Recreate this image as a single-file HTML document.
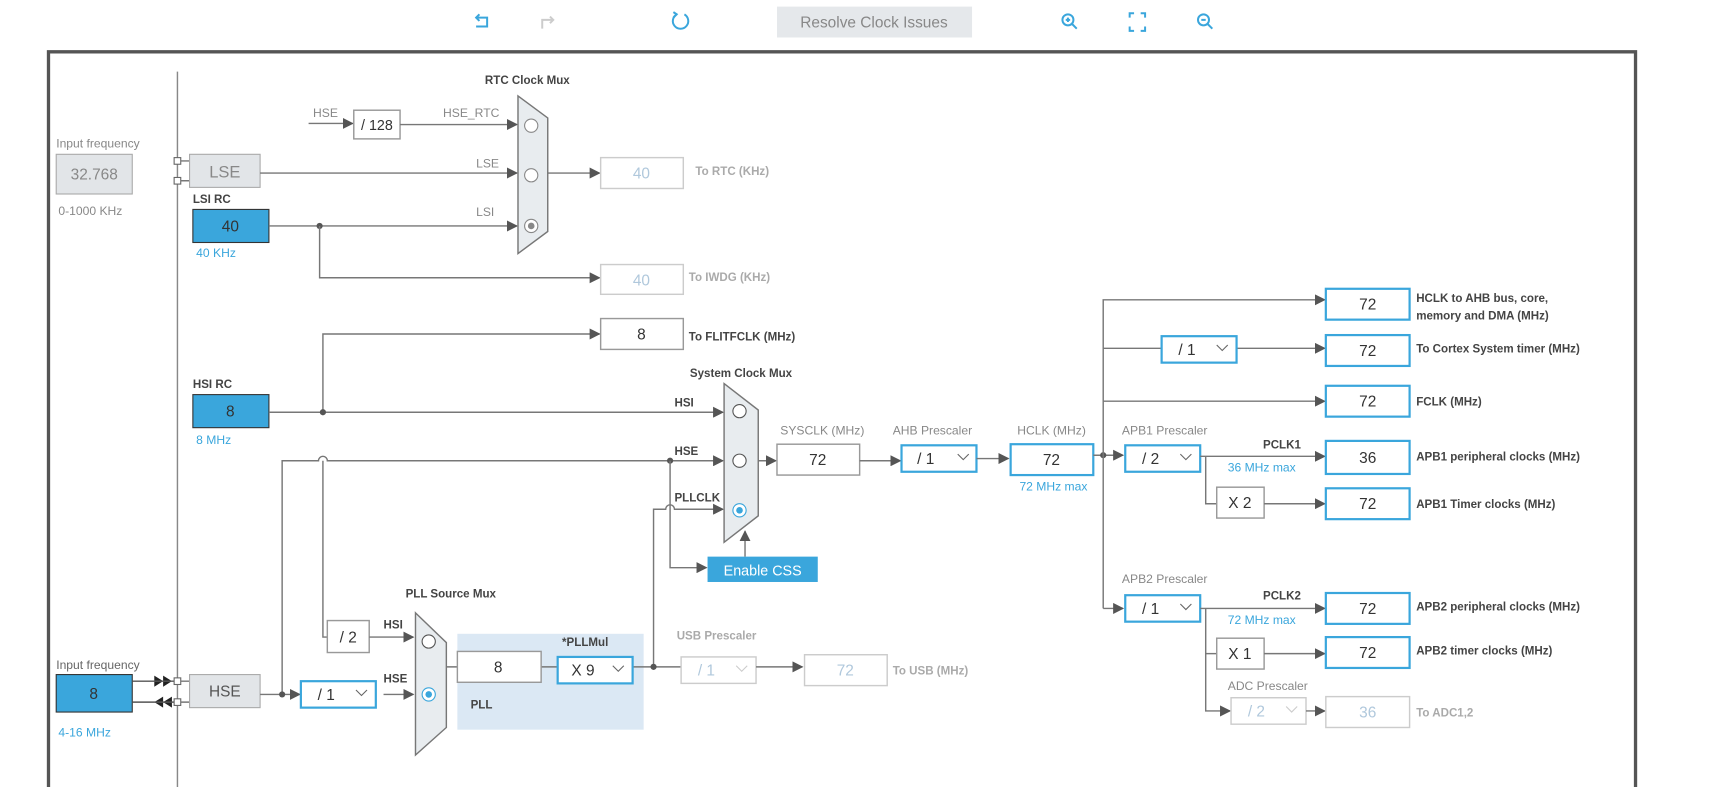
<!DOCTYPE html>
<html><head><meta charset="utf-8"><style>
html,body{margin:0;padding:0;background:#fff;width:1727px;height:787px;overflow:hidden}
svg{display:block}
text{font-family:"Liberation Sans",sans-serif}
.l{font-size:10.5px;font-weight:bold;fill:#444}
.g{font-size:10.5px;font-weight:bold;fill:#aaa}
.s{font-size:11px;fill:#888}
.b{font-size:11px;fill:#3aa6dc}
.v{font-size:14px;fill:#333;text-anchor:middle}
.vl{font-size:14px;fill:#b0c8dc;text-anchor:middle}
.w{stroke:#777;stroke-width:1.3;fill:none}
.box{fill:#fff;stroke:#999;stroke-width:1.3}
.bb{fill:#fff;stroke:#3aa6dc;stroke-width:2}
.lb{fill:#fff;stroke:#ccc;stroke-width:1.3}
</style></head><body>
<svg width="1727" height="787" viewBox="0 0 1567 714" preserveAspectRatio="none">
<defs><marker id="a" markerWidth="10" markerHeight="10" refX="9" refY="5" orient="auto" markerUnits="userSpaceOnUse"><path d="M0,0 L10,5 L0,10z" fill="#555"/></marker></defs>
<!-- toolbar -->
<g stroke="#3aa6dc" stroke-width="1.8" fill="none">
<path d="M432,16 h10 v8 h-10"/><path d="M435,13 l-3,3 l3,3"/>
<path d="M621,13 a7,7 0 1 1 -7,0"/><path d="M611,11 l3,2 l-3,3"/>
<circle cx="969" cy="18" r="5"/><path d="M973,22 l4,4 M967,18 h4 M969,16 v4"/>
<path d="M1025,16 v-4 h4 M1035,12 h4 v4 M1039,24 v4 h-4 M1029,28 h-4 v-4"/>
<circle cx="1092" cy="18" r="5"/><path d="M1096,22 l4,4 M1090,18 h4"/>
</g>
<g stroke="#ccc" stroke-width="1.8" fill="none"><path d="M492,26 v-8 h10"/><path d="M499,15 l3,3 l-3,3"/></g>
<rect x="705" y="6" width="177" height="28" fill="#e5e8eb"/>
<text x="793" y="25" text-anchor="middle" style="font-size:14px;fill:#888">Resolve Clock Issues</text>
<!-- frame -->
<path d="M44,716 V47 H1484 V716" fill="none" stroke="#555" stroke-width="3"/>
<line x1="161" y1="65" x2="161" y2="714" stroke="#888" stroke-width="1.3"/>
<!-- LSE -->
<text x="51" y="134" class="s">Input frequency</text>
<rect x="51" y="140" width="69" height="36" fill="#e2e5e8" stroke="#aaa"/>
<text x="85.5" y="163" class="v" style="fill:#888">32.768</text>
<text x="53" y="195" class="s">0-1000 KHz</text>
<rect x="158" y="143" width="6" height="6" fill="#fff" stroke="#666"/>
<rect x="158" y="161" width="6" height="6" fill="#fff" stroke="#666"/>
<path d="M164,146 h8 M164,164 h8" class="w"/>
<rect x="172" y="140" width="64" height="30" fill="#e2e5e8" stroke="#aaa"/>
<text x="204" y="161" class="v" style="fill:#888;font-size:15px">LSE</text>
<text x="175" y="184" class="l">LSI RC</text>
<rect x="175" y="190" width="69" height="30" fill="#3aa6dc" stroke="#333"/>
<text x="209" y="210" class="v">40</text>
<text x="178" y="233" class="b">40 KHz</text>
<!-- RTC mux -->
<text x="440" y="76" class="l">RTC Clock Mux</text>
<text x="284" y="106" class="s">HSE</text>
<path d="M280,112 H320" class="w" marker-end="url(#a)"/>
<rect x="321" y="100" width="42" height="26" class="box"/>
<text x="342" y="118" class="v" style="font-size:13px">/ 128</text>
<text x="402" y="106" class="s">HSE_RTC</text>
<path d="M363,113 H469" class="w" marker-end="url(#a)"/>
<text x="432" y="152" class="s">LSE</text>
<path d="M236,157 H469" class="w" marker-end="url(#a)"/>
<text x="432" y="196" class="s">LSI</text>
<path d="M244,205 H469" class="w" marker-end="url(#a)"/>
<circle cx="290" cy="205" r="2.8" fill="#555"/>
<path d="M290,205 V252 H544" class="w" marker-end="url(#a)"/>
<path d="M470,87 L497,107 V210 L470,230 Z" fill="#e8ecef" stroke="#777" stroke-width="1.3"/>
<circle cx="482" cy="114" r="6" fill="#fff" stroke="#888"/>
<circle cx="482" cy="159" r="6" fill="#fff" stroke="#888"/>
<circle cx="482" cy="205" r="6" fill="#fff" stroke="#888"/><circle cx="482" cy="205" r="3" fill="#888"/>
<path d="M497,157 H544" class="w" marker-end="url(#a)"/>
<rect x="545" y="143" width="75" height="28" class="lb"/><text x="582" y="162" class="vl">40</text>
<text x="631" y="159" class="g">To RTC (KHz)</text>
<rect x="545" y="240" width="75" height="27" class="lb"/><text x="582" y="259" class="vl">40</text>
<text x="625" y="255" class="g">To IWDG (KHz)</text>
<!-- FLITF -->
<path d="M293,374 V303 H544" class="w" marker-end="url(#a)"/>
<rect x="545" y="289" width="75" height="28" class="box"/><text x="582" y="308" class="v">8</text>
<text x="625" y="309" class="l">To FLITFCLK (MHz)</text>
<!-- HSI -->
<text x="175" y="352" class="l">HSI RC</text>
<rect x="175" y="358" width="69" height="30" fill="#3aa6dc" stroke="#333"/>
<text x="209" y="378" class="v">8</text>
<text x="178" y="403" class="b">8 MHz</text>
<path d="M244,374 H656" class="w" marker-end="url(#a)"/>
<circle cx="293" cy="374" r="2.8" fill="#555"/>
<text x="612" y="369" class="l">HSI</text>
<path d="M256,630 V418 H289 a4,4 0 0 1 8,0 H656" class="w" marker-end="url(#a)"/>
<text x="612" y="413" class="l">HSE</text>
<circle cx="608" cy="418" r="2.8" fill="#555"/>
<path d="M608,418 V515 H641" class="w" marker-end="url(#a)"/>
<path d="M593,604 V462 H604 a4,4 0 0 1 8,0 H656" class="w" marker-end="url(#a)"/>
<text x="612" y="455" class="l">PLLCLK</text>
<text x="626" y="342" class="l">System Clock Mux</text>
<path d="M657,348 L688,372 V468 L657,492 Z" fill="#e8ecef" stroke="#777" stroke-width="1.3"/>
<circle cx="671" cy="373" r="6" fill="#fff" stroke="#555"/>
<circle cx="671" cy="418" r="6" fill="#fff" stroke="#555"/>
<circle cx="671" cy="463" r="6" fill="#fff" stroke="#3aa6dc"/><circle cx="671" cy="463" r="3" fill="#3aa6dc"/>
<rect x="642" y="505" width="100" height="23" fill="#3aa6dc"/>
<text x="692" y="522" text-anchor="middle" style="font-size:13px;fill:#fff">Enable CSS</text>
<path d="M676,505 V482" class="w" marker-end="url(#a)"/>
<!-- SYSCLK chain -->
<path d="M688,418 H704" class="w" marker-end="url(#a)"/>
<text x="708" y="394" class="s">SYSCLK (MHz)</text>
<rect x="705" y="403" width="75" height="28" class="box"/><text x="742" y="422" class="v">72</text>
<path d="M780,418 H817" class="w" marker-end="url(#a)"/>
<text x="810" y="394" class="s">AHB Prescaler</text>
<rect x="818" y="404" width="68" height="24" class="bb"/><text x="840" y="421" class="v">/ 1</text><path d="M869,412 l5,5 l5,-5" stroke="#666" fill="none"/>
<path d="M886,416 H915" class="w" marker-end="url(#a)"/>
<text x="923" y="394" class="s">HCLK (MHz)</text>
<rect x="917" y="403" width="75" height="28" class="bb"/><text x="954" y="422" class="v">72</text>
<text x="925" y="445" class="b">72 MHz max</text>
<path d="M992,413 H1019" class="w" marker-end="url(#a)"/>
<circle cx="1001" cy="413" r="2.8" fill="#555"/>
<path d="M1001,552 V272 H1202" class="w" marker-end="url(#a)"/>
<path d="M1001,316 H1054 M1122,316 H1202" class="w" marker-end="url(#a)"/>
<path d="M1001,364 H1202" class="w" marker-end="url(#a)"/>
<path d="M1001,552 H1019" class="w" marker-end="url(#a)"/>
<rect x="1203" y="262" width="76" height="28" class="bb"/><text x="1241" y="281" class="v">72</text>
<text x="1285" y="274" class="l">HCLK to AHB bus, core,</text>
<text x="1285" y="290" class="l">memory and DMA (MHz)</text>
<rect x="1054" y="305" width="68" height="24" class="bb"/><text x="1077" y="322" class="v">/ 1</text><path d="M1104,313 l5,5 l5,-5" stroke="#666" fill="none"/>
<rect x="1203" y="304" width="76" height="28" class="bb"/><text x="1241" y="323" class="v">72</text>
<text x="1285" y="320" class="l">To Cortex System timer (MHz)</text>
<rect x="1203" y="350" width="76" height="28" class="bb"/><text x="1241" y="369" class="v">72</text>
<text x="1285" y="368" class="l">FCLK (MHz)</text>
<!-- APB1 -->
<text x="1018" y="394" class="s">APB1 Prescaler</text>
<rect x="1021" y="404" width="68" height="24" class="bb"/><text x="1044" y="421" class="v">/ 2</text><path d="M1071,412 l5,5 l5,-5" stroke="#666" fill="none"/>
<path d="M1089,414 H1202" class="w" marker-end="url(#a)"/>
<text x="1146" y="407" class="l">PCLK1</text>
<text x="1114" y="428" class="b">36 MHz max</text>
<rect x="1203" y="400" width="76" height="30" class="bb"/><text x="1241" y="420" class="v">36</text>
<text x="1285" y="418" class="l">APB1 peripheral clocks (MHz)</text>
<path d="M1094,414 V457 H1104" class="w"/>
<rect x="1104" y="442" width="43" height="28" class="box"/><text x="1125" y="461" class="v">X 2</text>
<path d="M1147,457 H1202" class="w" marker-end="url(#a)"/>
<rect x="1203" y="443" width="76" height="28" class="bb"/><text x="1241" y="462" class="v">72</text>
<text x="1285" y="461" class="l">APB1 Timer clocks (MHz)</text>
<!-- APB2 -->
<text x="1018" y="529" class="s">APB2 Prescaler</text>
<rect x="1021" y="540" width="68" height="24" class="bb"/><text x="1044" y="557" class="v">/ 1</text><path d="M1071,548 l5,5 l5,-5" stroke="#666" fill="none"/>
<path d="M1089,552 H1202" class="w" marker-end="url(#a)"/>
<text x="1146" y="544" class="l">PCLK2</text>
<text x="1114" y="566" class="b">72 MHz max</text>
<rect x="1203" y="538" width="76" height="28" class="bb"/><text x="1241" y="557" class="v">72</text>
<text x="1285" y="554" class="l">APB2 peripheral clocks (MHz)</text>
<path d="M1094,552 V645 H1116" class="w" marker-end="url(#a)"/>
<path d="M1094,593 H1104" class="w"/>
<rect x="1104" y="579" width="43" height="28" class="box"/><text x="1125" y="598" class="v">X 1</text>
<path d="M1147,593 H1202" class="w" marker-end="url(#a)"/>
<rect x="1203" y="578" width="76" height="28" class="bb"/><text x="1241" y="597" class="v">72</text>
<text x="1285" y="594" class="l">APB2 timer clocks (MHz)</text>
<text x="1114" y="626" class="s">ADC Prescaler</text>
<rect x="1117" y="633" width="68" height="24" class="lb"/><text x="1140" y="650" class="vl">/ 2</text><path d="M1167,641 l5,5 l5,-5" stroke="#ccc" fill="none"/>
<path d="M1185,645 H1202" class="w" marker-end="url(#a)"/>
<rect x="1203" y="632" width="76" height="28" class="lb"/><text x="1241" y="651" class="vl">36</text>
<text x="1285" y="650" class="g">To ADC1,2</text>
<!-- HSE input -->
<text x="51" y="607" class="s" style="fill:#666">Input frequency</text>
<rect x="51" y="612" width="69" height="34" fill="#3aa6dc" stroke="#333"/>
<text x="85" y="634" class="v">8</text>
<text x="53" y="668" class="b">4-16 MHz</text>
<path d="M140,613 l8,5 l-8,5z M148,613 l8,5 l-8,5z M156,632 l-8,5 l8,5z M148,632 l-8,5 l8,5z" fill="#222"/>
<path d="M120,618 H158 M120,637 H158" stroke="#555" stroke-width="1.3"/>
<rect x="158" y="615" width="6" height="6" fill="#fff" stroke="#666"/>
<rect x="158" y="634" width="6" height="6" fill="#fff" stroke="#666"/>
<path d="M164,618 h8 M164,637 h8" class="w"/>
<rect x="172" y="612" width="64" height="30" fill="#e2e5e8" stroke="#aaa"/>
<text x="204" y="632" class="v" style="fill:#555">HSE</text>
<path d="M236,630 H272" class="w" marker-end="url(#a)"/>
<circle cx="256" cy="630" r="2.8" fill="#555"/>
<rect x="273" y="618" width="68" height="24" class="bb"/><text x="296" y="635" class="v">/ 1</text><path d="M323,626 l5,5 l5,-5" stroke="#666" fill="none"/>
<path d="M348,630 H375" class="w" marker-end="url(#a)"/>
<text x="348" y="619" class="l">HSE</text>
<path d="M293,418 V578 H297" class="w"/>
<rect x="297" y="563" width="38" height="29" class="box"/><text x="316" y="583" class="v">/ 2</text>
<path d="M335,578 H375" class="w" marker-end="url(#a)"/>
<text x="348" y="570" class="l">HSI</text>
<text x="368" y="542" class="l">PLL Source Mux</text>
<path d="M377,556 L405,583 V660 L377,685 Z" fill="#e8ecef" stroke="#777" stroke-width="1.3"/>
<circle cx="389" cy="582" r="6" fill="#fff" stroke="#555"/>
<circle cx="389" cy="630" r="6" fill="#fff" stroke="#3aa6dc"/><circle cx="389" cy="630" r="3" fill="#3aa6dc"/>
<rect x="415" y="575" width="169" height="87" fill="#dbe8f4"/>
<path d="M405,605 H415 M491,605 H506 M574,605 H618" class="w"/>
<rect x="415" y="591" width="76" height="28" class="box"/><text x="452" y="610" class="v">8</text>
<text x="510" y="586" class="l">*PLLMul</text>
<rect x="506" y="596" width="68" height="24" class="bb"/><text x="529" y="613" class="v">X 9</text><path d="M556,604 l5,5 l5,-5" stroke="#666" fill="none"/>
<text x="427" y="643" class="l">PLL</text>
<circle cx="593" cy="605" r="2.8" fill="#555"/>
<text x="614" y="580" class="g">USB Prescaler</text>
<rect x="618" y="596" width="68" height="24" class="lb"/><text x="641" y="613" class="vl">/ 1</text><path d="M668,604 l5,5 l5,-5" stroke="#ccc" fill="none"/>
<path d="M686,605 H728" class="w" marker-end="url(#a)"/>
<rect x="730" y="594" width="75" height="28" class="lb"/><text x="767" y="613" class="vl">72</text>
<text x="810" y="612" class="g">To USB (MHz)</text>
</svg>
</body></html>
